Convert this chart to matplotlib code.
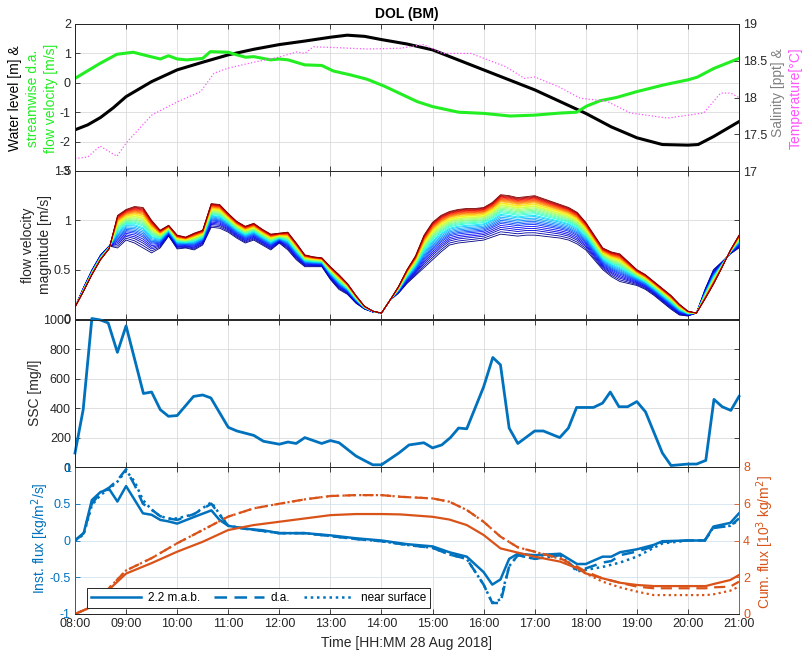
#!/usr/bin/env python3
"""DOL (BM) station, 28 Aug 2018: water level / velocity / SSC / sediment flux."""
import matplotlib
matplotlib.use("Agg")
import matplotlib.pyplot as plt                      # noqa: E402
from matplotlib.ticker import FormatStrFormatter     # noqa: E402
import numpy as np                                   # noqa: E402

plt.rcParams["font.family"] = ["Liberation Sans", "DejaVu Sans"]
plt.rcParams["axes.unicode_minus"] = False

BLUE = "#0072BD"
ORANGE = "#D95319"
GREEN = "#22EE22"
MAGENTA = "#FF55FF"
INK = "#262626"

# ---- panel 1: water level, depth-averaged streamwise velocity, temperature
t_wl = [8.0, 8.25, 8.5, 8.75, 9.0, 9.5, 10.0, 10.5, 11.0, 11.5, 12.0, 12.5,
        13.0, 13.33, 13.67, 14.0, 14.5, 15.0, 15.5, 16.0, 16.5, 17.0, 17.5,
        18.0, 18.5, 19.0, 19.5, 20.0, 20.2, 20.5, 21.0]
water_level = [-1.6, -1.43, -1.18, -0.85, -0.47, 0.04, 0.44, 0.7, 0.95,
               1.14, 1.3, 1.42, 1.55, 1.62, 1.58, 1.47, 1.32, 1.12, 0.78,
               0.44, 0.1, -0.24, -0.64, -1.04, -1.5, -1.87, -2.1, -2.12,
               -2.1, -1.83, -1.32]

t_u = [8.0, 8.49, 8.82, 9.14, 9.34, 9.67, 9.83, 10.0, 10.19, 10.5, 10.65,
       11.0, 11.17, 11.34, 11.5, 11.83, 12.0, 12.17, 12.5, 12.83, 13.06,
       13.39, 13.72, 14.05, 14.37, 14.7, 15.0, 15.51, 16.0, 16.52, 17.0,
       17.49, 17.82, 18.02, 18.28, 18.6, 19.0, 19.53, 20.0, 20.18, 20.51, 21.0]
u_da = [0.15, 0.66, 0.97, 1.04, 0.95, 0.81, 0.92, 0.81, 0.78, 0.83, 1.06,
        1.04, 0.95, 0.87, 0.89, 0.78, 0.81, 0.78, 0.61, 0.59, 0.4, 0.27,
        0.12, -0.11, -0.37, -0.64, -0.81, -1.0, -1.04, -1.13, -1.1, -1.03,
        -1.0, -0.79, -0.61, -0.5, -0.3, -0.07, 0.1, 0.19, 0.49, 0.83]

t_temp = [8.0, 8.25, 8.49, 8.82, 9.0, 9.5, 10.0, 10.46, 10.72, 11.0, 11.5,
          12.0, 12.33, 12.5, 12.67, 13.06, 13.72, 14.37, 14.82, 15.2, 15.75,
          16.43, 16.8, 17.0, 17.49, 17.89, 18.41, 18.87, 19.6, 20.31, 20.64,
          20.84, 21.0]
temperature = [17.17, 17.19, 17.34, 17.2, 17.38, 17.76, 17.94, 18.08, 18.33,
               18.4, 18.48, 18.55, 18.62, 18.6, 18.69, 18.68, 18.66, 18.67,
               18.72, 18.6, 18.6, 18.42, 18.26, 18.28, 18.14, 17.99, 17.95,
               17.79, 17.72, 17.79, 18.06, 18.06, 18.0]

# ---- panel 2: velocity magnitude profile, near-bed bin and top bin (10 min)
t_prof = np.arange(8 * 6, 21 * 6 + 1) / 6.0
vel_bed = [0.12, 0.32, 0.5, 0.65, 0.74, 0.72, 0.8, 0.77, 0.72, 0.67, 0.72,
           0.84, 0.71, 0.72, 0.7, 0.75, 0.93, 0.92, 0.88, 0.82, 0.77, 0.8,
           0.75, 0.7, 0.77, 0.7, 0.6, 0.53, 0.53, 0.53, 0.4, 0.3, 0.25, 0.16,
           0.1, 0.07, 0.06, 0.19, 0.26, 0.36, 0.44, 0.52, 0.6, 0.68, 0.75,
           0.77, 0.78, 0.79, 0.8, 0.83, 0.86, 0.85, 0.84, 0.85, 0.85, 0.84,
           0.83, 0.82, 0.8, 0.76, 0.7, 0.6, 0.5, 0.43, 0.38, 0.36, 0.34, 0.3,
           0.24, 0.17, 0.1, 0.04, 0.03, 0.06, 0.3, 0.5, 0.58, 0.66, 0.72]
vel_top = [0.12, 0.28, 0.45, 0.6, 0.71, 1.05, 1.11, 1.14, 1.13, 1.0, 0.9,
           0.95, 0.85, 0.83, 0.87, 0.9, 1.17, 1.16, 1.07, 0.99, 0.94, 0.97,
           0.91, 0.86, 0.87, 0.88, 0.77, 0.65, 0.63, 0.62, 0.53, 0.45, 0.36,
           0.24, 0.13, 0.08, 0.06, 0.19, 0.33, 0.5, 0.64, 0.85, 0.98, 1.05,
           1.09, 1.11, 1.12, 1.12, 1.13, 1.18, 1.26, 1.25, 1.23, 1.24, 1.25,
           1.22, 1.19, 1.16, 1.13, 1.08, 0.98, 0.85, 0.72, 0.68, 0.66, 0.58,
           0.5, 0.45, 0.38, 0.31, 0.24, 0.15, 0.08, 0.06, 0.2, 0.35, 0.52,
           0.7, 0.85]
# relative position of each ADCP bin between the bed bin and the top bin
bin_frac = [0.0, 0.06, 0.12, 0.17, 0.22, 0.27, 0.31, 0.35, 0.39, 0.43, 0.47,
            0.5, 0.54, 0.57, 0.6, 0.63, 0.66, 0.69, 0.72, 0.74, 0.77, 0.79,
            0.82, 0.84, 0.86, 0.88, 0.9, 0.92, 0.94, 0.96, 0.98, 1.0]

# ---- panel 3: SSC
t_ssc = [8.0, 8.16, 8.33, 8.5, 8.65, 8.83, 9.0, 9.34, 9.5, 9.67, 9.83, 10.0,
         10.32, 10.5, 10.66, 11.0, 11.17, 11.5, 11.69, 12.0, 12.17, 12.33,
         12.5, 12.83, 13.0, 13.17, 13.5, 13.69, 13.83, 14.0, 14.34, 14.54,
         14.83, 15.0, 15.18, 15.35, 15.51, 15.67, 16.0, 16.18, 16.33, 16.5,
         16.67, 17.0, 17.17, 17.49, 17.66, 17.82, 18.15, 18.33, 18.48, 18.65,
         18.82, 19.0, 19.17, 19.5, 19.67, 20.0, 20.17, 20.35, 20.51, 20.67,
         20.84, 21.0]
ssc = [95, 390, 1010, 1000, 980, 780, 960, 500, 510, 390, 345, 350, 480, 490,
       470, 270, 245, 215, 175, 155, 170, 160, 200, 160, 180, 165, 75, 40, 15,
       15, 95, 150, 165, 130, 150, 200, 265, 260, 545, 745, 695, 265, 160,
       245, 245, 200, 265, 405, 405, 435, 510, 410, 410, 445, 375, 95, 10, 20,
       20, 45, 460, 410, 385, 480]

# ---- panel 4: instantaneous and cumulative sediment flux
t_flux = [8.0, 8.17, 8.33, 8.5, 8.67, 8.83, 9.0, 9.17, 9.33, 9.5, 9.67, 9.83,
          10.0, 10.33, 10.67, 10.83, 11.0, 11.33, 11.67, 12.0, 12.5, 13.0,
          13.5, 14.0, 14.5, 15.0, 15.33, 15.67, 16.0, 16.17, 16.33, 16.5,
          16.67, 17.0, 17.5, 17.83, 18.0, 18.33, 18.5, 18.67, 19.0, 19.33,
          19.5, 20.0, 20.33, 20.5, 20.83, 21.0]
flux_mab = [0.0, 0.1, 0.55, 0.66, 0.7, 0.53, 0.74, 0.55, 0.37, 0.35, 0.28,
            0.26, 0.23, 0.32, 0.41, 0.28, 0.2, 0.16, 0.14, 0.1, 0.1, 0.07,
            0.03, 0.0, -0.05, -0.08, -0.16, -0.22, -0.43, -0.6, -0.53, -0.25,
            -0.18, -0.2, -0.18, -0.32, -0.32, -0.22, -0.22, -0.16, -0.12,
            -0.06, -0.01, 0.0, 0.0, 0.19, 0.24, 0.37]
flux_da = [0.0, 0.1, 0.5, 0.65, 0.72, 0.82, 0.97, 0.75, 0.5, 0.42, 0.33, 0.3,
           0.28, 0.36, 0.5, 0.35, 0.2, 0.16, 0.13, 0.1, 0.1, 0.06, 0.02,
           -0.01, -0.06, -0.1, -0.19, -0.25, -0.6, -0.85, -0.85, -0.35, -0.2,
           -0.25, -0.2, -0.4, -0.38, -0.3, -0.28, -0.2, -0.15, -0.08, -0.02,
           0.0, 0.0, 0.17, 0.2, 0.3]
flux_ns = [0.0, 0.08, 0.48, 0.62, 0.7, 0.8, 0.95, 0.8, 0.55, 0.42, 0.33, 0.3,
           0.3, 0.36, 0.52, 0.36, 0.2, 0.16, 0.13, 0.1, 0.1, 0.06, 0.02,
           -0.01, -0.06, -0.1, -0.19, -0.25, -0.6, -0.85, -0.8, -0.35, -0.2,
           -0.25, -0.2, -0.42, -0.4, -0.36, -0.33, -0.3, -0.22, -0.1, -0.04,
           0.0, 0.0, 0.18, 0.2, 0.28]

t_cum = [8.0, 8.25, 8.5, 8.75, 9.0, 9.5, 10.0, 10.5, 11.0, 11.5, 12.0, 12.5,
         13.0, 13.5, 14.0, 14.37, 15.0, 15.33, 15.67, 16.0, 16.33, 16.67,
         17.0, 17.5, 17.83, 18.0, 18.33, 18.67, 19.0, 19.33, 20.0, 20.35,
         20.5, 20.83, 21.0]
cum_mab = [0.0, 0.3, 0.9, 1.55, 2.2, 2.77, 3.39, 3.93, 4.57, 4.84, 5.02, 5.2,
           5.38, 5.44, 5.44, 5.42, 5.29, 5.14, 4.84, 4.3, 3.57, 3.34, 3.12,
           2.85, 2.49, 2.21, 1.94, 1.7, 1.58, 1.52, 1.52, 1.52, 1.63, 1.85,
           2.12]
cum_da = [0.0, 0.3, 0.95, 1.65, 2.37, 3.04, 3.85, 4.57, 5.3, 5.75, 6.0, 6.24,
          6.42, 6.47, 6.47, 6.38, 6.29, 6.11, 5.66, 5.02, 4.21, 3.63, 3.39,
          3.03, 2.58, 2.31, 1.94, 1.7, 1.49, 1.4, 1.4, 1.4, 1.45, 1.49, 1.76]
cum_ns = [0.0, 0.3, 0.95, 1.65, 2.37, 3.04, 3.85, 4.57, 5.3, 5.75, 6.0, 6.24,
          6.42, 6.47, 6.47, 6.38, 6.29, 6.11, 5.66, 5.02, 4.21, 3.63, 3.39,
          3.0, 2.5, 2.2, 1.76, 1.45, 1.22, 1.03, 1.03, 1.03, 1.07, 1.27, 1.49]

hours = list(range(8, 22))
hour_labels = [f"{h:02d}:00" for h in hours]

W, H = 803, 654
fig = plt.figure(figsize=(W / 100, H / 100), dpi=100)


def box(top, bottom):
    # pixel rows -> figure fraction
    return [75 / W, 1 - bottom / H, 664 / W, (bottom - top) / H]


def style(ax, yticks, right=True, labels=False):
    ax.set_facecolor("none")
    ax.set_axisbelow(True)
    ax.set_xlim(8, 21)
    ax.set_xticks(hours)
    ax.set_xticklabels(hour_labels)
    ax.set_yticks(yticks)
    ax.yaxis.set_major_formatter(FormatStrFormatter("%g"))
    ax.tick_params(direction="in", length=3.5, width=0.6, colors=INK,
                   labelsize=9, top=True, right=right, labelbottom=labels,
                   pad=3)
    ax.grid(color="#dadada", lw=0.6)
    for s in ax.spines.values():
        s.set_color(INK)
        s.set_linewidth(0.7)


# panel 1
ax1 = fig.add_axes(box(24, 171))
style(ax1, [-3, -2, -1, 0, 1, 2], right=False)
ax1.set_ylim(-3, 2)
ax1.plot(t_wl, water_level, color="k", lw=2.2)
ax1.plot(t_u, u_da, color=GREEN, lw=2.2)
ax1r = ax1.twinx()
ax1r.set_ylim(17, 19)
ax1r.set_yticks([17, 17.5, 18, 18.5, 19])
ax1r.yaxis.set_major_formatter(FormatStrFormatter("%g"))
ax1r.tick_params(direction="in", length=3.5, width=0.6, colors=INK,
                 labelsize=9, pad=3)
for s in ax1r.spines.values():
    s.set_color(INK)
    s.set_linewidth(0.7)
ax1r.plot(t_temp, temperature, color=MAGENTA, ls=":", lw=0.9)
ax1.set_title("DOL (BM)", fontweight="bold", fontsize=10, pad=4)

# panel 2
ax2 = fig.add_axes(box(171, 319))
style(ax2, [0, 0.5, 1, 1.5])
ax2.set_ylim(0, 1.5)
lo = np.array(vel_bed)
hi = np.array(vel_top)
for f, c in zip(bin_frac, plt.cm.jet(np.linspace(0, 1, len(bin_frac)))):
    ax2.plot(t_prof, lo + f * (hi - lo), color=c, lw=0.6)

# panel 3
ax3 = fig.add_axes(box(320, 467))
style(ax3, [0, 200, 400, 600, 800, 1000])
ax3.set_ylim(0, 1000)
ax3.plot(t_ssc, ssc, color=BLUE, lw=2, clip_on=False)

# panel 4
ax4 = fig.add_axes(box(467, 614))
style(ax4, [-1, -0.5, 0, 0.5, 1], right=False, labels=True)
ax4.set_ylim(-1, 1)
ax4.tick_params(axis="y", colors=BLUE)
ax4.yaxis.grid(color="#d3e4f2")
h1, = ax4.plot(t_flux, flux_mab, color=BLUE, lw=1.8)
h2, = ax4.plot(t_flux, flux_da, color=BLUE, lw=1.8, ls=(0, (5, 3)))
h3, = ax4.plot(t_flux, flux_ns, color=BLUE, lw=1.8, ls=(0, (1, 1.5)))
ax4r = ax4.twinx()
ax4r.set_ylim(0, 8)
ax4r.set_yticks([0, 2, 4, 6, 8])
ax4r.tick_params(direction="in", length=3.5, width=0.6, colors=ORANGE,
                 labelsize=9, pad=3)
for s in ax4r.spines.values():
    s.set_color(INK)
    s.set_linewidth(0.7)
ax4r.spines["left"].set_color(BLUE)
ax4r.spines["right"].set_color(ORANGE)
ax4r.plot(t_cum, cum_mab, color=ORANGE, lw=1.6)
ax4r.plot(t_cum, cum_da, color=ORANGE, lw=1.6, ls=(0, (5, 3)))
ax4r.plot(t_cum, cum_ns, color=ORANGE, lw=1.6, ls=(0, (1, 1.5)))
leg = ax4r.legend([h1, h2, h3], ["2.2 m.a.b.", "d.a.", "near surface"],
                  ncol=3, loc="lower left", bbox_to_anchor=(0.018, 0.04),
                  borderaxespad=0, fontsize=8.5, handlelength=4.2,
                  columnspacing=1.2, handletextpad=0.6, fancybox=False,
                  framealpha=1, borderpad=0.35)
leg.get_frame().set_edgecolor(INK)
leg.get_frame().set_linewidth(0.7)

# axis labels
def flabel(x, y, s, color=INK):
    fig.text(x / W, 1 - y / H, s, rotation=90, ha="center", va="center",
             fontsize=10, color=color)


flabel(15, 98, "Water level [m] &", "k")
flabel(33, 98, "streamwise d.a.", GREEN)
flabel(51, 98, "flow velocity [m/s]", GREEN)
flabel(778, 93, "Salinity [ppt] &", "#808080")
flabel(796, 98, "Temperature[°C]", MAGENTA)
flabel(28, 245, "flow velocity")
flabel(45, 245, "magnitude [m/s]")
flabel(35, 393, "SSC [mg/l]")
flabel(40, 538, "Inst. flux [kg/m$^2$/s]", BLUE)
flabel(765, 542, "Cum. flux [10$^3$ kg/m$^2$]", ORANGE)
fig.text(407 / W, 1 - 643 / H, "Time [HH:MM 28 Aug 2018]", ha="center",
         va="center", fontsize=10, color=INK)

fig.savefig("out.png", dpi=100)
